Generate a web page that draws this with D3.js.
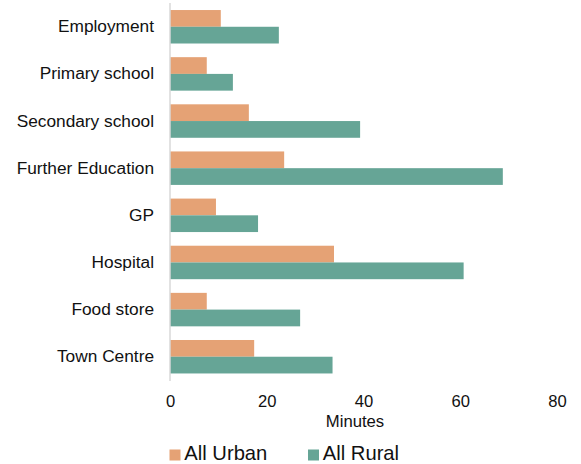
<!DOCTYPE html>
<html>
<head>
<meta charset="utf-8">
<script src="https://cdn.jsdelivr.net/npm/d3@7"></script>
<style>
  html, body { margin: 0; padding: 0; background: #fff; }
  svg { display: block; font-family: "Liberation Sans", Arial, sans-serif; }
</style>
</head>
<body>
<svg id="chart" width="581" height="464"></svg>
<script>
const categories = ["Employment", "Primary school", "Secondary school", "Further Education", "GP", "Hospital", "Food store", "Town Centre"];
const seriesNames = ["All Urban", "All Rural"];
const urbanValues = [10.5, 7.6, 16.3, 23.6, 9.5, 33.9, 7.6, 17.4];
const ruralValues = [22.5, 13.0, 39.3, 68.8, 18.2, 60.7, 26.9, 33.6];
const xTicks = [0, 20, 40, 60, 80];
const colors = ["#E5A275", "#66A596"];
const axisTitle = "Minutes";

const svg = d3.select("#chart");

const x = d3.scaleLinear().domain([0, 80]).range([170, 557]);
const y = d3.scaleBand().domain(categories).range([3.2, 380.3]).paddingInner(0.29).paddingOuter(0.145);
const sub = d3.scaleBand().domain(seriesNames).range([0, y.bandwidth()]);

const data = categories.map((c, i) => ({ cat: c, vals: [urbanValues[i], ruralValues[i]] }));

// bars
const g = svg.append("g");
const groups = g.selectAll("g.grp").data(data).join("g")
  .attr("class", "grp")
  .attr("transform", d => `translate(0,${y(d.cat)})`);
groups.selectAll("rect").data(d => d.vals.map((v, j) => ({ v, s: seriesNames[j], j })))
  .join("rect")
  .attr("x", x(0))
  .attr("y", d => sub(d.s))
  .attr("width", d => x(d.v) - x(0))
  .attr("height", sub.bandwidth())
  .attr("fill", d => colors[d.j]);

// vertical axis line
svg.append("line")
  .attr("x1", x(0)).attr("x2", x(0))
  .attr("y1", 3).attr("y2", 381)
  .attr("stroke", "#d9d9d9").attr("stroke-width", 1.5);

// category labels
const yAxis = d3.axisLeft(y).tickSize(0).tickPadding(0);
const ya = svg.append("g").attr("transform", "translate(154,0)").call(yAxis);
ya.select(".domain").remove();
ya.selectAll("text").attr("font-size", 17.3).attr("fill", "#111")
  .attr("font-family", "Liberation Sans, Arial, sans-serif");

// x tick labels
const xAxis = d3.axisBottom(x).tickValues(xTicks).tickSize(0).tickPadding(0);
const xa = svg.append("g").attr("transform", "translate(0,395)").call(xAxis);
xa.select(".domain").remove();
xa.selectAll("text").attr("font-size", 16.6).attr("fill", "#111")
  .attr("font-family", "Liberation Sans, Arial, sans-serif");

// axis title
svg.append("text")
  .attr("x", 355).attr("y", 427.3)
  .attr("text-anchor", "middle")
  .attr("font-size", 16.7).attr("fill", "#111")
  .text(axisTitle);

// legend
const legendX = [169.5, 308];
const lg = svg.append("g").selectAll("g").data(seriesNames).join("g")
  .attr("transform", (d, i) => `translate(${legendX[i]},0)`);
lg.append("rect").attr("x", 0).attr("y", 449.5).attr("width", 11).attr("height", 11)
  .attr("fill", (d, i) => colors[i]);
lg.append("text").attr("x", 14.8).attr("y", 459.6)
  .attr("font-size", 20.2).attr("fill", "#111")
  .text(d => d);
</script>
</body>
</html>
